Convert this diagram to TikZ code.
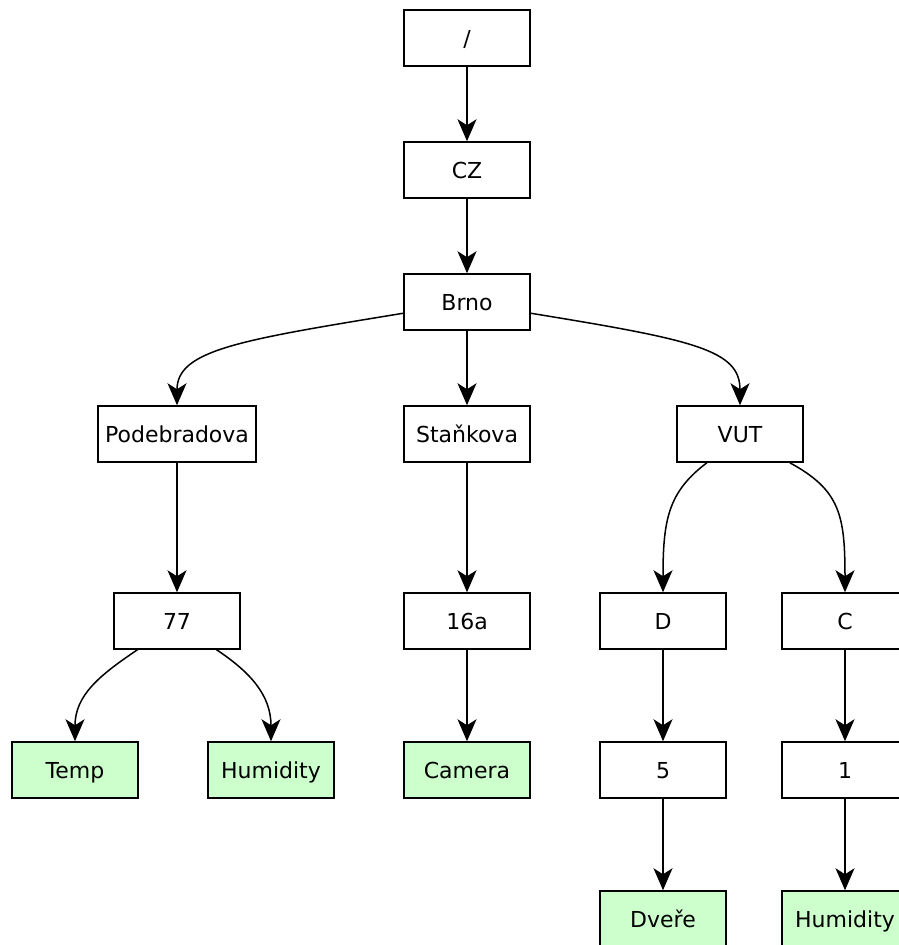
\documentclass[tikz,border=0pt]{standalone}
\usepackage{fontspec}
\setmainfont{DejaVu Sans}
\usetikzlibrary{arrows.meta}
\definecolor{leafgreen}{HTML}{CCFFCC}

\begin{document}
\begin{tikzpicture}[x=1pt,y=-1pt,
		box/.style={draw,line width=1.5pt,minimum width=126pt,minimum height=56pt,inner xsep=7pt,text height=20pt,text depth=4pt,font=\fontsize{22}{26}\selectfont},
		leaf/.style={box,fill=leafgreen},
		edge/.style={line width=1.5pt,-{Stealth[length=22pt,width=19pt,inset=6pt]}}]
		\clip (0,0) rectangle (899,945);
		\node [box] (root) at (467,38) {/};
		\node [box] (cz) at (467,170) {CZ};
		\node [box] (brno) at (467,302) {Brno};
		\node [box] (podebradova) at (177,434) {Podebradova};
		\node [box] (stankova) at (467,434) {Staňkova};
		\node [box] (vut) at (740,434) {VUT};
		\node [box] (n77) at (177,621) {77};
		\node [box] (n16a) at (467,621) {16a};
		\node [box] (d) at (663,621) {D};
		\node [box] (c) at (845,621) {C};
		\node [leaf] (temp) at (75,770) {Temp};
		\node [leaf] (humidity) at (271,770) {Humidity};
		\node [leaf] (camera) at (467,770) {Camera};
		\node [box] (n5) at (663,770) {5};
		\node [box] (n1) at (845,770) {1};
		\node [leaf] (dvere) at (663,919) {Dveře};
		\node [leaf] (humiditytwo) at (845,919) {Humidity};
		\draw[edge] (root) -- (cz);
		\draw[edge] (cz) -- (brno);
		\draw[edge] (brno) -- (stankova);
		\draw[edge] (brno.190) .. controls (240,340) and (177,350) .. (podebradova.north);
		\draw[edge] (brno.-10) .. controls (695,340) and (740,350) .. (vut.north);
		\draw[edge] (podebradova) -- (n77);
		\draw[edge] (stankova) -- (n16a);
		\draw[edge] (vut.221) .. controls (668,492) and (663,520) .. (d.north);
		\draw[edge] (vut.-30) .. controls (840,490) and (845,515) .. (c.north);
		\draw[edge] (n77.216) .. controls (100,675) and (75,695) .. (temp.north);
		\draw[edge] (n77.-36) .. controls (250,672) and (271,695) .. (humidity.north);
		\draw[edge] (n16a) -- (camera);
		\draw[edge] (d) -- (n5);
		\draw[edge] (c) -- (n1);
		\draw[edge] (n5) -- (dvere);
		\draw[edge] (n1) -- (humiditytwo);
	\end{tikzpicture}
\end{document}
